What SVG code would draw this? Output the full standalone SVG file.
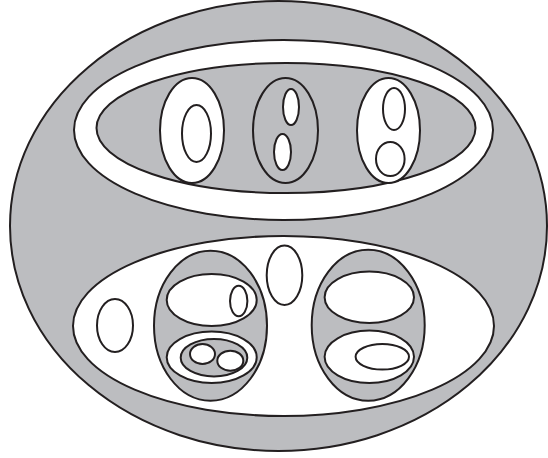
<svg xmlns="http://www.w3.org/2000/svg" width="548" height="458" viewBox="0 0 548 458">
<style>
ellipse{stroke:#231f20;stroke-width:2}
.g{fill:#bcbdc0}
.w{fill:#ffffff}
</style>
<rect width="548" height="458" fill="#ffffff"/>
<g id="outer"><ellipse class="g" cx="278.5" cy="226" rx="268.5" ry="225"/></g>
<g id="top">
<ellipse class="w" cx="283.5" cy="130" rx="209.5" ry="90"/>
<ellipse class="g" cx="286" cy="128" rx="189.5" ry="65"/>
<g id="t1"><ellipse class="w" cx="192" cy="130.5" rx="32" ry="52.5"/><ellipse class="w" cx="196.5" cy="133.5" rx="14.5" ry="28.5"/></g>
<g id="t2"><ellipse class="g" cx="285.5" cy="130.5" rx="32.5" ry="52.5"/><ellipse class="w" cx="291" cy="107" rx="8" ry="18"/><ellipse class="w" cx="282.5" cy="152" rx="8.5" ry="18"/></g>
<g id="t3"><ellipse class="w" cx="388.5" cy="130.5" rx="31.5" ry="52.5"/><ellipse class="w" cx="394" cy="109" rx="11" ry="21"/><ellipse class="w" cx="390.3" cy="159" rx="14.3" ry="17"/></g>
</g>
<g id="bottom">
<ellipse class="w" cx="283.5" cy="326" rx="210.5" ry="90"/>
<g id="b0"><ellipse class="w" cx="115" cy="325.5" rx="18" ry="26.5"/></g>
<g id="b1">
<ellipse class="g" cx="210.5" cy="325.7" rx="56.5" ry="75"/>
<ellipse class="w" cx="211.7" cy="300" rx="45" ry="26"/>
<ellipse class="w" cx="238.7" cy="301" rx="8.7" ry="15.3"/>
<ellipse class="w" cx="211.7" cy="357.3" rx="45" ry="25.7"/>
<ellipse class="g" cx="214" cy="357.7" rx="33.3" ry="18.7"/>
<ellipse class="w" cx="202.5" cy="354" rx="12.5" ry="10"/>
<ellipse class="w" cx="230.3" cy="360.7" rx="13" ry="10"/>
</g>
<g id="b2"><ellipse class="w" cx="284.5" cy="275.3" rx="17.8" ry="29.7"/></g>
<g id="b3">
<ellipse class="g" cx="368.2" cy="325.2" rx="56.5" ry="75.5"/>
<ellipse class="w" cx="369.3" cy="297.3" rx="44.7" ry="25.7"/>
<ellipse class="w" cx="369.3" cy="356.8" rx="44.7" ry="26.2"/>
<ellipse class="w" cx="382.3" cy="356.8" rx="26.7" ry="12.8"/>
</g>
</g>
<g id="connectors"/>
</svg>
